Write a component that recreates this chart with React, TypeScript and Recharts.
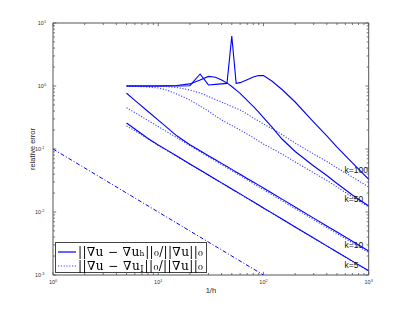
import React from "react";
import {
  LineChart,
  Line,
  XAxis,
  YAxis,
  ReferenceArea,
  ReferenceDot,
  Legend,
  Label,
} from "recharts";

// 1/h sample points shared by every error curve
const INV_H = [5, 6, 8, 10, 12, 15, 20, 25, 30, 35, 40, 45, 50, 55, 60, 70, 80, 90, 100, 120, 150, 200, 300, 400, 500, 700, 1000];

// ||grad(u - u_h)||_0 / ||grad u||_0  (solid)
const FE_K5 = [0.259, 0.208, 0.147, 0.116, 0.0968, 0.0774, 0.058, 0.0465, 0.0387, 0.0332, 0.029, 0.0258, 0.0232, 0.0211, 0.0194, 0.0166, 0.0145, 0.0129, 0.0116, 0.00968, 0.00774, 0.0058, 0.00387, 0.0029, 0.00232, 0.00166, 0.00117];
const FE_K10 = [0.766, 0.593, 0.394, 0.288, 0.222, 0.162, 0.117, 0.0936, 0.0783, 0.0673, 0.0591, 0.0527, 0.0475, 0.0432, 0.0397, 0.0341, 0.03, 0.0267, 0.024, 0.02, 0.016, 0.012, 0.008, 0.006, 0.0048, 0.00343, 0.0024];
const FE_K50 = [1.0, 1.0, 1.0, 1.0, 1.01, 1.02, 1.08, 1.25, 1.42, 1.38, 1.24, 1.12, 0.98, 0.86, 0.766, 0.59, 0.473, 0.384, 0.315, 0.224, 0.144, 0.0912, 0.0537, 0.038, 0.0283, 0.0186, 0.01245];
const FE_K100 = [1.0, 1.0, 1.0, 1.0, 1.0, 1.0, 1.01, 1.55, 1.04, 1.06, 1.08, 1.1, 6.2, 1.1, 1.13, 1.26, 1.39, 1.47, 1.46, 1.2, 0.88, 0.557, 0.268, 0.161, 0.107, 0.0601, 0.033];

// ||grad(u - u_I)||_0 / ||grad u||_0  (dotted)
const INT_K5 = [0.232, 0.195, 0.145, 0.114, 0.0955, 0.0765, 0.0574, 0.046, 0.0383, 0.0329, 0.0287, 0.0255, 0.023, 0.0209, 0.0192, 0.0164, 0.0144, 0.0128, 0.0115, 0.0096, 0.00767, 0.00575, 0.00383, 0.00287, 0.0023, 0.00164, 0.00115];
const INT_K10 = [0.453, 0.378, 0.283, 0.227, 0.189, 0.151, 0.113, 0.0906, 0.0755, 0.0647, 0.0566, 0.0503, 0.0453, 0.0412, 0.0378, 0.0324, 0.0283, 0.0252, 0.0227, 0.0189, 0.0151, 0.0113, 0.00755, 0.00566, 0.00453, 0.00324, 0.00227];
const INT_K50 = [1.0, 0.99, 0.964, 0.93, 0.864, 0.746, 0.6, 0.48, 0.4, 0.334, 0.289, 0.259, 0.236, 0.217, 0.2, 0.173, 0.152, 0.134, 0.12, 0.102, 0.0833, 0.0622, 0.0418, 0.0318, 0.0249, 0.0173, 0.012];
const INT_K100 = [1.0, 1.0, 1.0, 1.0, 0.98, 0.947, 0.864, 0.774, 0.681, 0.61, 0.557, 0.509, 0.473, 0.443, 0.416, 0.36, 0.31, 0.278, 0.249, 0.212, 0.17, 0.124, 0.0833, 0.0635, 0.05, 0.0359, 0.0249];

// slope -1 reference line
const REF_X = [1, 100];
const REF_Y = [0.1, 0.001];

// curve labels at the right edge
const K_LABELS = ["k=100", "k=50", "k=10", "k=5"];
const K_LABEL_Y = [0.0464, 0.0161, 0.003, 0.00145];
const K_LABEL_X = 590;

// legend entries
const LEGEND_FE = "||∇u − ∇uₕ||₀/||∇u||₀";
const LEGEND_INT_HEAD = "||∇u − ∇u";
const LEGEND_INT_SUB = "I";
const LEGEND_INT_TAIL = "||₀/||∇u||₀";

const X_TICKS = [1, 2, 3, 4, 5, 6, 7, 8, 9, 10, 20, 30, 40, 50, 60, 70, 80, 90, 100, 200, 300, 400, 500, 600, 700, 800, 900, 1000];
const Y_TICKS = [
  0.001, 0.002, 0.003, 0.004, 0.005, 0.006, 0.007, 0.008, 0.009,
  0.01, 0.02, 0.03, 0.04, 0.05, 0.06, 0.07, 0.08, 0.09,
  0.1, 0.2, 0.3, 0.4, 0.5, 0.6, 0.7, 0.8, 0.9,
  1, 2, 3, 4, 5, 6, 7, 8, 9, 10,
];

const W = 407;
const H = 310;
const PL = 53;
const PT = 23;
const PR = 368.7;
const PB = 275;
const BLUE = "#0000ff";
const AXIS = "#555555";
const SANS = "'Liberation Sans', Arial, sans-serif";
const SERIF = "'DejaVu Serif', serif";

const pts = (xs: number[], ys: number[]) => xs.map((x, i) => ({ x, y: ys[i] }));
const expOf = (v: number) => Math.round(Math.log10(v));
const isMajor = (v: number) => Math.abs(Math.log10(v) - expOf(v)) < 1e-9;

function XTick(props: any) {
  const { x, payload } = props;
  const v = payload.value;
  const major = isMajor(v);
  const len = major ? 3.2 : 2;
  return (
    <g>
      <line x1={x} x2={x} y1={PB} y2={PB - len} stroke={AXIS} strokeWidth={0.8} />
      <line x1={x} x2={x} y1={PT} y2={PT + len} stroke={AXIS} strokeWidth={0.8} />
      {major && (
        <text x={x} y={PB + 9} textAnchor="middle" fontSize={5.5} fill="#333" fontFamily={SANS}>
          10
          <tspan dy={-2.5} fontSize={3.8}>{expOf(v)}</tspan>
        </text>
      )}
    </g>
  );
}

function YTick(props: any) {
  const { y, payload } = props;
  const v = payload.value;
  const major = isMajor(v);
  const len = major ? 3.2 : 2;
  const e = expOf(v);
  return (
    <g>
      <line x1={PL} x2={PL + len} y1={y} y2={y} stroke={AXIS} strokeWidth={0.8} />
      <line x1={PR} x2={PR - len} y1={y} y2={y} stroke={AXIS} strokeWidth={0.8} />
      {major && (
        <text x={e < 0 ? 44.5 : 46} y={y + 2} textAnchor="end" fontSize={5.5} fill="#333" fontFamily={SANS}>
          10
          <tspan dy={-2.5} fontSize={3.8}>{e}</tspan>
        </text>
      )}
    </g>
  );
}

function LegendBox() {
  return (
    <svg width={152} height={31} style={{ display: "block", willChange: "transform" }}>
      <rect x={0.5} y={0.5} width={151} height={30} fill="#fff" stroke="#444" strokeWidth={1} />
      <line x1={3} x2={21} y1={10} y2={10} stroke={BLUE} strokeWidth={1.2} />
      <line x1={3} x2={21} y1={24} y2={24} stroke={BLUE} strokeWidth={1.2} strokeDasharray="1.2 1.6" strokeOpacity={0.75} />
      <text x={23} y={14} fontFamily={SERIF} fontSize={12.2} fill="#000" textLength={125} lengthAdjust="spacing">
        {LEGEND_FE}
      </text>
      <text x={23} y={28} fontFamily={SERIF} fontSize={12.2} fill="#000" textLength={125} lengthAdjust="spacing">
        {LEGEND_INT_HEAD}
        <tspan fontSize={8.5} dy={2}>{LEGEND_INT_SUB}</tspan>
        <tspan dy={-2} dx={0.5}>{LEGEND_INT_TAIL}</tspan>
      </text>
    </svg>
  );
}

export default function App() {
  const solid = [FE_K5, FE_K10, FE_K50, FE_K100];
  const dotted = [INT_K5, INT_K10, INT_K50, INT_K100];
  return (
    <div style={{ position: "absolute", left: 0, top: 0, width: W, height: H, background: "#fff" }}>
      <LineChart
        width={W}
        height={H}
        margin={{ top: PT, right: W - PR, bottom: 0, left: 0 }}
      >
        <XAxis
          dataKey="x"
          type="number"
          scale="log"
          domain={[1, 1000]}
          allowDataOverflow
          ticks={X_TICKS}
          interval={0}
          height={H - PB}
          axisLine={false}
          tickLine={false}
          tick={<XTick />}
        >
          <Label value="1/h" position="center" dy={-2} fontSize={7.5} fill="#222" fontFamily={SANS} />
        </XAxis>
        <YAxis
          dataKey="y"
          type="number"
          scale="log"
          domain={[0.001, 10]}
          allowDataOverflow
          ticks={Y_TICKS}
          interval={0}
          width={PL}
          axisLine={false}
          tickLine={false}
          tick={<YTick />}
        >
          <Label value="relative error" angle={-90} position="center" dx={6} fontSize={7.5} fill="#222" fontFamily={SANS} />
        </YAxis>
        <ReferenceArea x1={1} x2={1000} y1={0.001} y2={10} fill="none" stroke={AXIS} strokeWidth={1} />
        {solid.map((ys, i) => (
          <Line
            key={`fe-${i}`}
            data={pts(INV_H, ys)}
            dataKey="y"
            type="linear"
            stroke={BLUE}
            strokeWidth={1.1}
            dot={false}
            isAnimationActive={false}
          />
        ))}
        {dotted.map((ys, i) => (
          <Line
            key={`int-${i}`}
            data={pts(INV_H, ys)}
            dataKey="y"
            type="linear"
            stroke={BLUE}
            strokeWidth={1.1}
            strokeDasharray="1.2 1.6"
            strokeOpacity={0.75}
            dot={false}
            isAnimationActive={false}
          />
        ))}
        <Line
          data={pts(REF_X, REF_Y)}
          dataKey="y"
          type="linear"
          stroke={BLUE}
          strokeWidth={1}
          strokeDasharray="4 2 1 2"
          dot={false}
          isAnimationActive={false}
        />
        {K_LABELS.map((t, i) => (
          <ReferenceDot
            key={t}
            x={K_LABEL_X}
            y={K_LABEL_Y[i]}
            r={0}
            fill="none"
            stroke="none"
            label={{ value: t, position: "right", offset: 0, fontSize: 8.5, fill: "#111", fontFamily: SANS }}
          />
        ))}
        <Legend
          layout="horizontal"
          verticalAlign="middle"
          align="center"
          wrapperStyle={{ position: "absolute", left: 55, top: 242, width: 152, height: 31 }}
          content={() => <LegendBox />}
        />
      </LineChart>
    </div>
  );
}
